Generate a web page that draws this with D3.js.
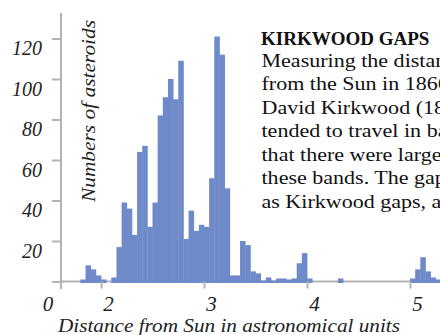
<!DOCTYPE html>
<html lang="en">
<head>
  <meta charset="UTF-8">
  <title>Kirkwood gaps</title>
  <script src="https://d3js.org/d3.v7.min.js"></script>
  <style>
    body { margin: 0; background: #fff; }
    svg { display: block; font-family: "Liberation Serif", "Times New Roman", serif; }
    .tick line { stroke: #b3b3b3; stroke-width: 2px; }
    .tick text { font-family: "Liberation Serif", "Times New Roman", serif; font-style: italic; fill: #222; }
  </style>
</head>
<body>
  <svg width="440" height="335"></svg>
  <script>
    // histogram bins, 0.05 AU wide, left edges from 1.80 AU
    const binStart = 1.80;
    const binWidth = 0.05;
    const counts = [
      1, 8, 6, 3, 1, 0, 2, 17, 39, 36,
      23, 64, 67, 27, 39, 82, 91, 100, 90, 109,
      21, 35, 25, 28, 27, 51, 121, 112, 46, 3,
      3, 20, 18, 5, 4, 0.5, 2, 0.5, 1.5, 1.5,
      1, 1.5, 9, 14, 1.5, 0, 0, 0, 0, 0,
      1.5, 0, 0, 0, 0, 0, 0, 0, 0, 0,
      0, 0, 0, 0, 1.5, 6, 12, 5, 2, 1
    ];
    const xTicks = [2, 3, 4, 5];
    const yTicks = [0, 20, 40, 60, 80, 100, 120];

    const textLines = [
      "Measuring the distances of asteroids",
      "from the Sun in 1866, the American",
      "David Kirkwood (1814\u201395) found",
      "tended to travel in bands. He also",
      "that there were large gaps between",
      "these bands. The gaps became known",
      "as Kirkwood gaps, and are caused"
    ];

    const svg = d3.select("svg");

    const x = d3.scaleLinear().domain([2, 5]).range([101, 410]);
    const y = d3.scaleLinear().domain([0, 120]).range([281.5, 38.5]);
    const x0 = 61;

    // axis lines
    svg.append("line")
      .attr("x1", x0).attr("x2", 440)
      .attr("y1", y(0)).attr("y2", y(0))
      .attr("stroke", "#b3b3b3").attr("stroke-width", 2);
    svg.append("line")
      .attr("x1", x0).attr("x2", x0)
      .attr("y1", 13).attr("y2", 289)
      .attr("stroke", "#b3b3b3").attr("stroke-width", 2);

    // bars
    svg.append("g")
      .selectAll("rect")
      .data(counts.map((c, i) => ({ a: binStart + i * binWidth, c: c })).filter(d => d.c > 0))
      .join("rect")
      .attr("x", d => x(d.a))
      .attr("width", d => x(d.a + binWidth) - x(d.a) + 0.4)
      .attr("y", d => y(d.c))
      .attr("height", d => y(0) - y(d.c) + 1.5)
      .attr("fill", "#6e8ac9");

    // y axis
    const yAxis = svg.append("g")
      .attr("transform", `translate(${x0},0)`)
      .call(d3.axisLeft(y).tickValues(yTicks).tickSize(9).tickFormat(d => d ? d : ""));
    yAxis.select(".domain").remove();
    yAxis.selectAll(".tick text")
      .attr("x", -19).attr("y", 10)
      .style("font-size", "20px");

    // x axis
    const xAxis = svg.append("g")
      .attr("transform", `translate(0,${y(0)})`)
      .call(d3.axisBottom(x).tickValues(xTicks).tickSize(7).tickFormat(d3.format("d")));
    xAxis.select(".domain").remove();
    xAxis.selectAll(".tick text")
      .attr("x", 7).attr("y", 29.5).attr("dy", 0)
      .style("font-size", "21px");

    svg.append("text")
      .attr("x", 48).attr("y", 311)
      .attr("text-anchor", "middle")
      .style("font-style", "italic").style("font-size", "21px").attr("fill", "#222")
      .text("0");

    // axis titles
    svg.append("text")
      .attr("transform", "translate(95,202) rotate(-90)")
      .attr("textLength", 182).attr("lengthAdjust", "spacingAndGlyphs")
      .style("font-style", "italic").style("font-size", "19.5px").attr("fill", "#222")
      .text("Numbers of asteroids");

    svg.append("text")
      .attr("x", 58).attr("y", 332)
      .attr("textLength", 342).attr("lengthAdjust", "spacingAndGlyphs")
      .style("font-style", "italic").style("font-size", "19.5px").attr("fill", "#222")
      .text("Distance from Sun in astronomical units");

    // caption block
    svg.append("text")
      .attr("x", 261).attr("y", 45)
      .style("font-weight", "bold").style("font-size", "19px").attr("fill", "#111")
      .text("KIRKWOOD GAPS");

    svg.append("g")
      .attr("transform", "translate(261.5,0) scale(1.13,1)")
      .selectAll("text")
      .data(textLines)
      .join("text")
      .attr("x", 0)
      .attr("y", (d, i) => 67 + i * 23.5)
      .style("font-size", "19.5px").attr("fill", "#111")
      .text(d => d);
  </script>
</body>
</html>
